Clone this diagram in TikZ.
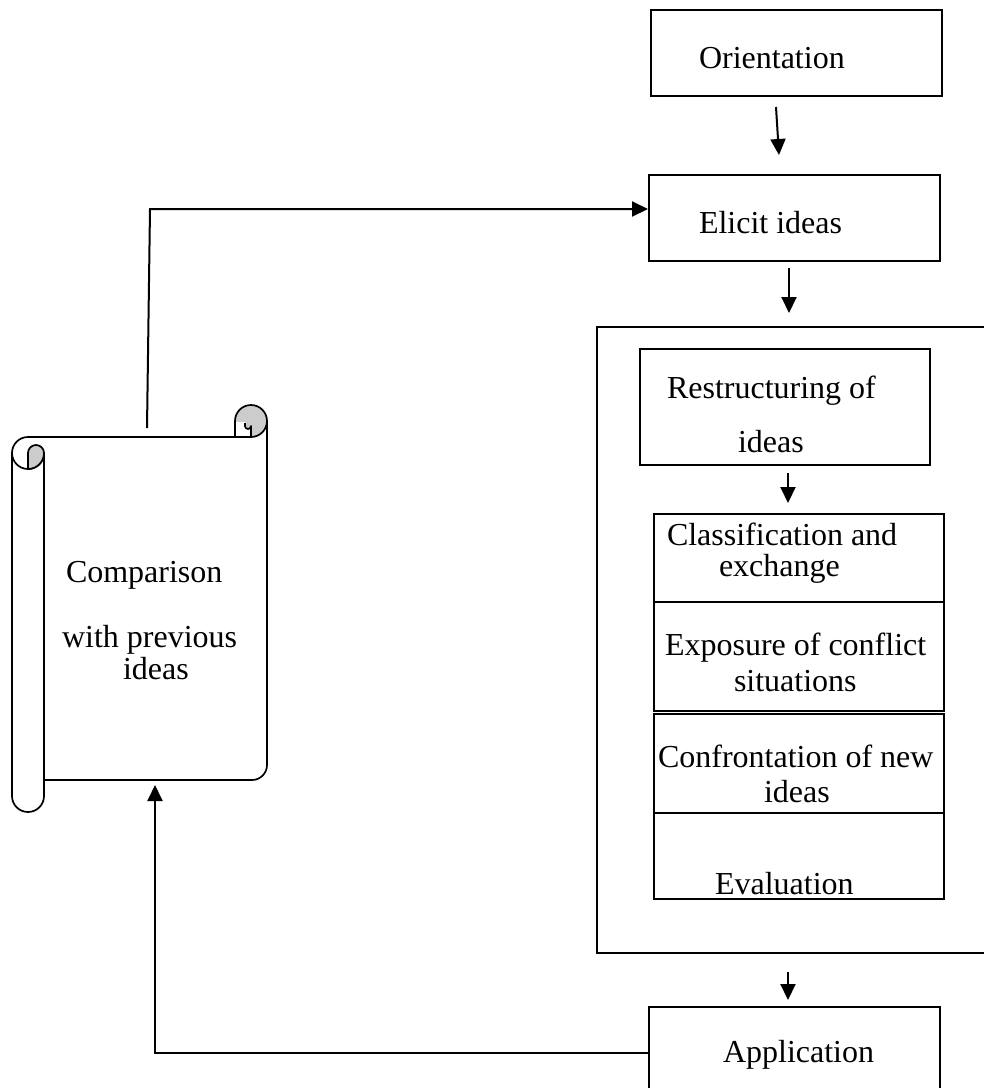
\documentclass[tikz,border=0pt]{standalone}
\usepackage{fontspec}
\setmainfont{Liberation Serif}
\usetikzlibrary{arrows.meta,calc}
\definecolor{rollgrey}{RGB}{204,204,204}
\begin{document}
\begin{tikzpicture}[x=1pt,y=-1pt,line width=2pt,
  box/.style={draw,rectangle,anchor=north west,inner sep=0pt,minimum width=#1},
  lbl/.style={anchor=base west,inner sep=0pt,font=\fontsize{32}{37}\selectfont},
  arr/.style={-{Triangle[length=16pt,width=15pt]}},
  scrollline/.style={line width=1.7pt,line join=round}]
\clip (0,0) rectangle (984,1088);
\useasboundingbox (0,0) rectangle (984,1088);

% main column of steps
\node[box=291pt,minimum height=86pt] (orient) at (650,9) {};
\node[lbl] (torient) at (698,68) {Orientation};
\node[box=291pt,minimum height=86pt] (elicit) at (648,174) {};
\node[lbl] (telicit) at (698,233) {Elicit ideas};

% frame round the restructuring phase
\coordinate (frtr) at (984,327);
\coordinate (frtl) at (597,327);
\coordinate (frbl) at (597,953);
\coordinate (frbr) at (984,953);
\draw (frtr) -- (frtl) -- (frbl) -- (frbr);

\node[box=290pt,minimum height=116pt] (restr) at (639,348) {};
\node[lbl] (trestr1) at (666,398) {Restructuring of};
\node[lbl] (trestr2) at (737,452) {ideas};

\node[box=290pt,minimum height=88pt] (classif) at (653,513) {};
\node[lbl] (tclass1) at (666,545) {Classification and};
\node[lbl] (tclass2) at (718,576) {exchange};
\node[box=290pt,minimum height=109pt] (expos) at (653,601) {};
\node[lbl] (texpos1) at (664,655) {Exposure of conflict};
\node[lbl] (texpos2) at (733,691) {situations};
\node[box=290pt,minimum height=99pt] (confr) at (653,713) {};
\node[lbl] (tconfr1) at (657,767) {Confrontation of new};
\node[lbl] (tconfr2) at (763,802) {ideas};
\node[box=290pt,minimum height=86pt] (evalu) at (653,812) {};
\node[lbl] (teval) at (714,894) {Evaluation};

\node[box=291pt,minimum height=110pt] (applic) at (648,1006) {};
\node[lbl] (tapplic) at (722,1062) {Application};

% downward arrows between the steps
\coordinate (a1s) at (776,107);
\coordinate (a1e) at (779,155);
\draw[arr] (a1s) -- (a1e);
\coordinate (a2s) at (789,268);
\coordinate (a2e) at (789,313);
\draw[arr] (a2s) -- (a2e);
\coordinate (a3s) at (788,473);
\coordinate (a3e) at (788,503);
\draw[arr] (a3s) -- (a3e);
\coordinate (a4s) at (788,972);
\coordinate (a4e) at (788,1000);
\draw[arr] (a4s) -- (a4e);

% scroll
\begin{scope}[scrollline]
  % top-right roll
  \fill[rollgrey] (251,421) circle[radius=16];
  \fill[white] (235,437) -- (235,422) -- (245,422) -- (245,426)
     arc[start angle=180,end angle=0,radius=3] -- (251,437) -- cycle;
  \draw (267,421) arc[start angle=0,end angle=-180,radius=16] -- (235,437);
  \draw (267,421) arc[start angle=0,end angle=90,radius=16];
  \draw (245,423) -- (245,426) arc[start angle=180,end angle=0,radius=3] -- (251,437);
  % top edge and body
  \draw (28,437) -- (251,437);
  \draw (44,780) -- (252,780) arc[start angle=90,end angle=0,radius=15] -- (267,421);
  % left roll with its curl
  \draw (28,437) arc[start angle=270,end angle=0,radius=16];
  \filldraw[fill=rollgrey] (44,453) arc[start angle=0,end angle=-180,radius=8]
     -- (28,469) arc[start angle=90,end angle=0,radius=16] -- cycle;
  \draw (12,453) -- (12,796) arc[start angle=180,end angle=0,radius=16] -- (44,453);
\end{scope}
\node[lbl] (tcomp1) at (65,582) {Comparison};
\node[lbl] (tcomp2) at (61,647) {with previous};
\node[lbl] (tcomp3) at (122,679) {ideas};
\coordinate (scrolltop) at (147,428);
\coordinate (scrollbot) at (155,785);

% feedback loops
\coordinate (fbtop) at (150,209);
\draw[arr] (scrolltop) -- (fbtop) -- (fbtop -| elicit.west);
\coordinate (fbbot) at (155,1053);
\draw[arr] (fbbot -| applic.west) -- (fbbot) -- (scrollbot);
\end{tikzpicture}
\end{document}
